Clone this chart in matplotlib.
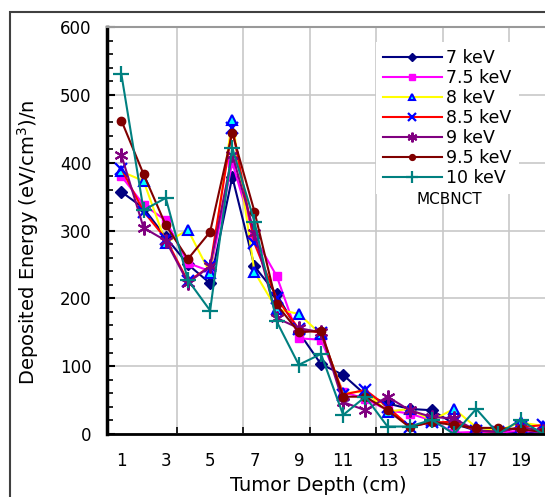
import matplotlib
matplotlib.use('Agg')
import matplotlib.pyplot as plt
from matplotlib.patches import Rectangle
from matplotlib.ticker import MultipleLocator, FixedLocator

# tumor depth (cm)
depth = list(range(1, 21))

e7 = [357, 333, 290, 250, 222, 379, 247, 206, 150, 103, 87, 58, 45, 37, 35, 15, 5, 5, 0, 3]
e75 = [380, 338, 315, 252, 240, 400, 290, 233, 141, 139, 62, 52, 35, 30, 20, 2, 3, 2, 5, 3]
e8 = [387, 373, 282, 301, 237, 463, 239, 184, 177, 147, 60, 63, 33, 37, 20, 37, 10, 5, 17, 12]
e85 = [391, 328, 288, 225, 247, 451, 281, 200, 155, 149, 58, 65, 40, 11, 17, 18, 5, 3, 10, 13]
e9 = [411, 304, 285, 223, 247, 412, 296, 171, 156, 150, 47, 35, 55, 35, 25, 23, 5, 3, 10, 5]
e95 = [462, 383, 308, 258, 298, 444, 328, 191, 150, 152, 55, 55, 35, 10, 18, 13, 9, 9, 7, 3]
e10 = [530, 330, 348, 227, 182, 422, 313, 166, 102, 118, 28, 55, 11, 11, 21, 0, 37, 0, 21, 0]

labels = ['7 keV', '7.5 keV', '8 keV', '8.5 keV', '9 keV', '9.5 keV', '10 keV']
x_ticks = [1, 3, 5, 7, 9, 11, 13, 15, 17, 19]

fig = plt.figure(figsize=(5.45, 4.97), dpi=100)
ax = fig.add_axes([107 / 545, 63 / 497, 469 / 545, 407 / 497])

ax.plot(depth, e7, color='#000080', lw=1.5, marker='D', ms=6, label=labels[0])
ax.plot(depth, e75, color='#ff00ff', lw=1.5, marker='s', ms=6, label=labels[1])
ax.plot(depth, e8, color='#ffff00', lw=1.5, marker='^', ms=7,
        mfc='#00ffff', mec='#0000ff', mew=1.5, label=labels[2])
ax.plot(depth, e85, color='#ff0000', lw=1.5, marker='x', ms=9,
        mec='#0000ff', mew=1.6, label=labels[3])
ax.plot(depth, e9, color='#800080', lw=1.5, marker=(6, 2, 0), ms=10,
        mew=1.5, label=labels[4])
ax.plot(depth, e95, color='#800000', lw=1.5, marker='o', ms=6, label=labels[5])
ax.plot(depth, e10, color='#008080', lw=1.5, marker='+', ms=12,
        mew=1.6, label=labels[6])

ax.set_xlim(0.35, 21.5)
ax.set_ylim(0, 600)

ax.xaxis.set_major_locator(FixedLocator(x_ticks))
ax.xaxis.set_minor_locator(FixedLocator([3.5, 6.5, 9.5, 12.5, 15.5, 18.5]))
ax.yaxis.set_major_locator(MultipleLocator(100))
ax.yaxis.set_minor_locator(MultipleLocator(20))

ax.tick_params(axis='x', which='major', length=0, pad=13, labelsize=12)
ax.tick_params(axis='x', which='minor', direction='in', length=5, width=1.2)
ax.tick_params(axis='y', which='major', direction='in', length=6, width=1.5,
               pad=11, labelsize=12)
ax.tick_params(axis='y', which='minor', direction='in', length=4, width=1.2)

ax.grid(True, axis='y', which='major', color='#c8c8c8', lw=1.2)
ax.grid(True, axis='x', which='minor', color='#c8c8c8', lw=1.2)
ax.set_axisbelow(True)

ax.spines['left'].set_linewidth(2.5)
ax.spines['bottom'].set_linewidth(2)
ax.spines['top'].set_color('#999999')
ax.spines['top'].set_linewidth(1.5)

ax.set_xlabel('Tumor Depth (cm)', fontsize=14)
ax.xaxis.set_label_coords((318 - 107) / 469, -0.103)
ax.set_ylabel('Deposited Energy (eV/cm$^3$)/n', fontsize=14)
ax.yaxis.set_label_coords(-0.14, 0.47)

leg = ax.legend(loc='upper left', bbox_to_anchor=(376 / 545, 1 - 42 / 497),
                bbox_transform=fig.transFigure, fontsize=12.5, frameon=True,
                facecolor='white', edgecolor='none', framealpha=1,
                handlelength=3.4, handletextpad=0.25, labelspacing=0.12,
                borderaxespad=0, markerscale=0.7, fancybox=False)

fig.text(449 / 545, 1 - 200 / 497, 'MCBNCT', fontsize=11, ha='center', va='center')

# outer frame of the original figure
fig.add_artist(Rectangle((10 / 545, -0.5), 1.5, 0.5 + (497 - 12) / 497,
                         transform=fig.transFigure, fill=False,
                         ec='#404040', lw=1.5))

fig.savefig('out.png', dpi=100)
